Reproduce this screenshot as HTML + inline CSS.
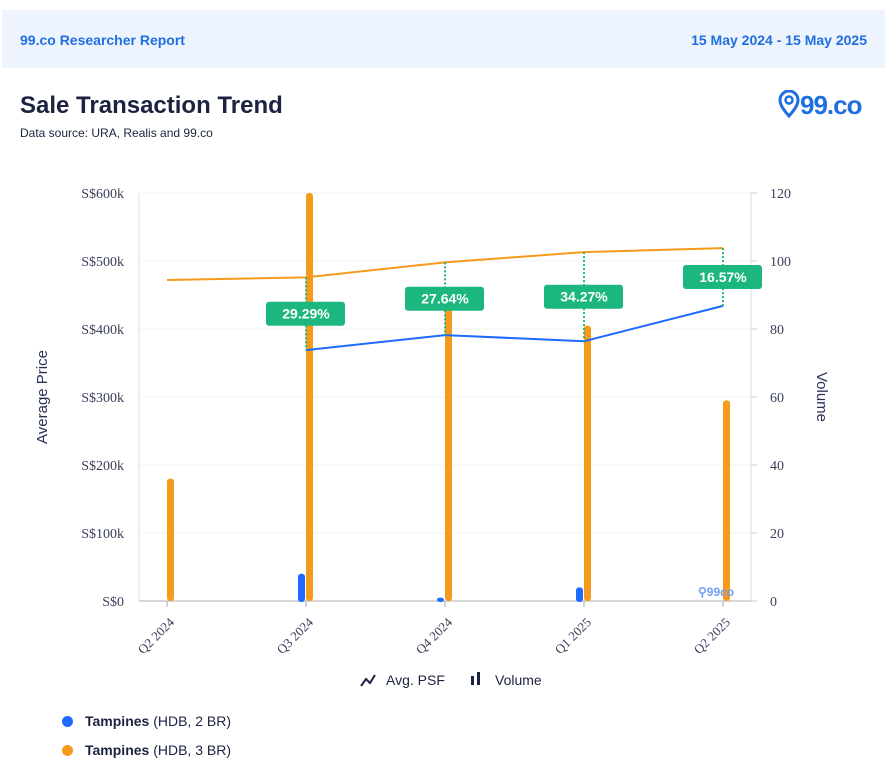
<!DOCTYPE html>
<html><head><meta charset="utf-8">
<style>
body{margin:0;width:893px;height:772px;background:#fff;font-family:"Liberation Sans",sans-serif;position:relative;overflow:hidden}
.hdr{position:absolute;left:2px;top:10px;width:883px;height:58px;background:#edf4fd}
.hdr span{position:absolute;top:22px;font-size:14px;color:#1f6fe0;font-weight:bold}
h1{position:absolute;left:20px;top:92px;margin:0;font-size:24px;font-weight:bold;color:#1c2340}
.src{position:absolute;left:20px;top:126px;font-size:12px;color:#1c2340}
.logo{position:absolute;left:778px;top:90px;font-size:26px;color:#1f6fe0;font-weight:bold;letter-spacing:-1px}
.leg{position:absolute;left:62px;font-size:14px;color:#1c2340}
.leg i{display:inline-block;width:11px;height:11px;border-radius:50%;margin-right:12px;vertical-align:-1px}
</style></head><body>
<div class="hdr">
<span style="left:18px">99.co Researcher Report</span>
<span style="right:18px">15 May 2024 - 15 May 2025</span></div>
<h1>Sale Transaction Trend</h1>
<div class="src">Data source: URA, Realis and 99.co</div>
<div class="logo"><svg width="22" height="28" viewBox="0 0 22 28" style="vertical-align:-4px"><path d="M11 26 C4 18 2 14 2 10 A9 9 0 0 1 20 10 C20 14 18 18 11 26Z" fill="none" stroke="#1f6fe0" stroke-width="3"/><circle cx="11" cy="10" r="3.5" fill="none" stroke="#1f6fe0" stroke-width="2.5"/></svg>99.co</div>
<svg id="c" width="893" height="700" style="position:absolute;left:0;top:0"></svg>
<div class="leg" style="top:713px"><i style="background:#1f6bff"></i><b>Tampines</b> (HDB, 2 BR)</div>
<div class="leg" style="top:742px"><i style="background:#f59a1b"></i><b>Tampines</b> (HDB, 3 BR)</div>
<script>
const categories=["Q2 2024","Q3 2024","Q4 2024","Q1 2025","Q2 2025"];
const vol2br=[0,8,1,4,0];
const vol3br=[36,120,86,81,59];
const price2br=[null,369,391,382,434];
const price3br=[472,476,498,513,519];
const diffLabels=[null,"29.29%","27.64%","34.27%","16.57%"];
const priceTicks=[0,100,200,300,400,500,600];
const volTicks=[0,20,40,60,80,100,120];
const NS="http://www.w3.org/2000/svg",svg=document.getElementById('c');
const L=139,R=751,T=193,B=601;
const x=i=>167+i*139;
const yP=v=>B-(v/600)*(B-T);
const yV=v=>B-(v/120)*(B-T);
function el(t,a,p){const e=document.createElementNS(NS,t);for(const k in a)e.setAttribute(k,a[k]);(p||svg).appendChild(e);return e;}
priceTicks.forEach((t,i)=>{
 const g=el('line',{x1:L,x2:R,y1:yP(t),y2:yP(t),stroke:'#f3f3f3'});
 
 const a=el('text',{x:124,y:yP(t)+5,'text-anchor':'end','font-size':14,fill:'#3a3f5a','font-family':'Liberation Serif,serif'});a.textContent=(t?'S$'+t+'k':'S$0');
 
});
volTicks.forEach(t=>{
 const a=el('text',{x:770,y:yV(t)+5,'font-size':14,fill:'#3a3f5a','font-family':'Liberation Serif,serif'});a.textContent=t;
 
 el('line',{x1:751,x2:757,y1:yV(t),y2:yV(t),stroke:'#ccc'});
});
el('line',{x1:L,x2:L,y1:T,y2:B,stroke:'#e0e0e0'});
el('line',{x1:751,x2:751,y1:T,y2:B,stroke:'#ddd'});
el('line',{x1:L,x2:R,y1:B,y2:B,stroke:'#ccc','stroke-width':1.5});
let t=el('text',{transform:'translate(47,397) rotate(-90)','text-anchor':'middle','font-size':15,fill:'#2a3058'});t.textContent='Average Price';

t=el('text',{transform:'translate(817,397) rotate(90)','text-anchor':'middle','font-size':15,fill:'#2a3058'});t.textContent='Volume';

categories.forEach((c,i)=>{
 el('line',{x1:x(i),x2:x(i),y1:B,y2:B+6,stroke:'#aaa'});
 const a=el('text',{transform:`translate(${x(i)+8},${B+22}) rotate(-45)`,'text-anchor':'end','font-size':13,fill:'#3a3f5a','font-family':'Liberation Serif,serif'});a.textContent=c;
 
 if(vol2br[i]>0){const b=el('rect',{x:x(i)-8,y:yV(vol2br[i]),width:7,height:B-yV(vol2br[i])+1,rx:3,fill:'#1f6bff'});
  }
 if(vol3br[i]>0){const b=el('rect',{x:x(i)-0,y:yV(vol3br[i]),width:7,height:B-yV(vol3br[i]),rx:3,fill:'#f59a1b'});
  }
});
function line(arr,col,name){let d='';arr.forEach((v,i)=>{if(v==null)return;d+=(d?'L':'M')+x(i)+','+yP(v);});
 const p=el('path',{d,fill:'none',stroke:col,'stroke-width':2});}
line(price3br,'#f59a1b','line-3br');line(price2br,'#1f6bff','line-2br');
diffLabels.forEach((l,i)=>{if(!l)return;
 const y1=yP(price3br[i]),y2=yP(price2br[i]),m=(y1+y2)/2;
 el('line',{x1:x(i),x2:x(i),y1,y2,stroke:'#1bb77f','stroke-width':2,'stroke-dasharray':'2,2'});
 const r=el('rect',{x:x(i)-40,y:m-12,width:79,height:24,rx:3,fill:'#1bb77f'});
 
 const tx=el('text',{x:x(i),y:m+5,'text-anchor':'middle','font-size':14,'font-weight':'bold',fill:'#fff'});tx.textContent=l;
 
});
t=el('text',{x:698,y:596,'font-size':12,'font-weight':'bold',fill:'#6d9cf2'});t.textContent='⚲99co';

const lg=el('g',{});
el('path',{d:'M361,686 L366,679 L370,683 L375,675',fill:'none',stroke:'#1c2340','stroke-width':2},lg);
t=el('text',{x:386,y:685,'font-size':14,fill:'#1c2340'},lg);t.textContent='Avg. PSF';
el('rect',{x:471,y:676,width:3,height:9,fill:'#1c2340'},lg);el('rect',{x:477,y:672,width:3,height:13,fill:'#1c2340'},lg);
t=el('text',{x:495,y:685,'font-size':14,fill:'#1c2340'},lg);t.textContent='Volume';
</script>
</body></html>
